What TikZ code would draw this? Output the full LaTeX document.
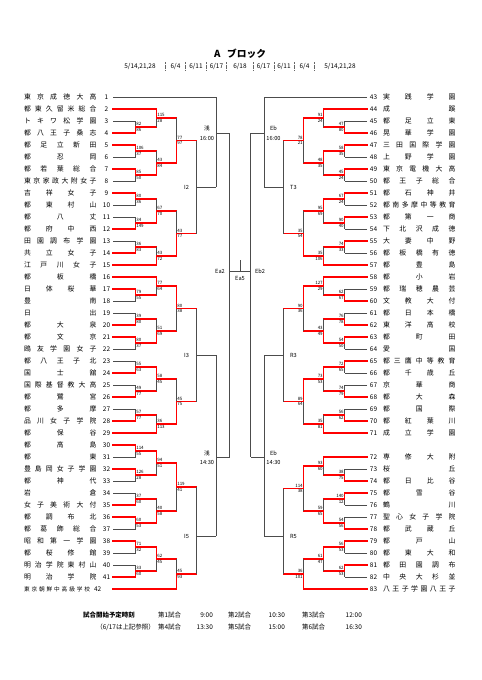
\documentclass[tikz,border=0pt]{standalone}
\usepackage{fontspec}
\setmainfont{Noto Sans CJK JP}
\newlength\ux
\setlength\ux{1.238pt}
\makeatletter
\def\reparte@#1#2\reparte@fin{#1\ifx\relax#2\relax\else\hfill\reparte@#2\reparte@fin\fi}
\newcommand\reparte[2][72.5]{\makebox[#1\ux][s]{\expandafter\reparte@#2\reparte@fin}}
\makeatother
% partido: {x vertical}{x salida}{y arriba}{y abajo}{y salida}{tanteo arriba}{tanteo abajo}{y ganador}
\newcommand\partido[8]{%
  \draw[linea] (#1,#3) -- (#1,#4);
  \ifx\relax#8\relax
    \draw[linea] (#1,#5) -- (#2,#5);
  \else
    \draw[ganador] (#1,#8) -- (#1,#5) -- (#2,#5);
    \node[tanteo, anchor=south \lado, xshift=\dx, yshift=1.2pt] at (#1,#5) {#6};
    \node[tanteo, anchor=north \lado, xshift=\dx, yshift=-1.2pt] at (#1,#5) {#7};
  \fi}
\tikzset{
  linea/.style={draw=black!70, line width=0.8pt},
  ganador/.style={draw=red, line width=2pt, line cap=rect},
  tanteo/.style={font=\fontsize{5.5}{5.5}\selectfont, inner sep=0pt, text height=3.8pt, text depth=0pt},
  equipo/.style={font=\fontsize{8.5}{8.5}\selectfont, inner sep=0pt},
  numero/.style={font=\fontsize{8}{8}\selectfont, inner sep=0pt},
  ronda/.style={font=\fontsize{7}{7}\selectfont, inner sep=0pt},
  fecha/.style={font=\fontsize{8}{8}\selectfont, inner sep=0pt},
  separador/.style={draw=black!60, densely dotted, line width=0.6pt},
  pie/.style={font=\fontsize{8}{8}\selectfont, inner sep=0pt},
}
\begin{document}
\begin{tikzpicture}[x=1.238pt, y=-1.238pt]
    \fill[white] (0,0) rectangle (481,680);
    \useasboundingbox (0,0) rectangle (481,680);

    % Titulo y fechas de cada ronda
    \node[font=\bfseries\fontsize{12}{12}\selectfont, inner sep=0pt] (titulo) at (240,54) {A\hspace{0.7em}ブロック};
    \node[fecha] (f1) at (140,66.7) {5/14,21,28};
    \node[fecha] (f2) at (175.5,66.7) {6/4};
    \node[fecha] (f3) at (196,66.7) {6/11};
    \node[fecha] (f4) at (216.5,66.7) {6/17};
    \node[fecha] (f5) at (240,66.7) {6/18};
    \node[fecha] (f6) at (263.5,66.7) {6/17};
    \node[fecha] (f7) at (284,66.7) {6/11};
    \node[fecha] (f8) at (304.5,66.7) {6/4};
    \node[fecha] (f9) at (340,66.7) {5/14,21,28};
    \foreach \d in {13.5,34,54.5,74.5} {
        \draw[separador] (240-\d,62) -- (240-\d,71);
        \draw[separador] (240+\d,62) -- (240+\d,71);
    }

    % Equipos del lado izquierdo
    \foreach \n/\nm/\xe/\c in {1/東京成徳大高/216/linea, 2/都東久留米総合/156.5/ganador,
        3/トキワ松学園/135.5/linea, 4/都八王子桑志/135.5/ganador, 5/都足立新田/135.5/ganador,
        6/都忍岡/135.5/linea, 7/都若葉総合/135.5/ganador, 8/東京家政大附女子/135.5/linea,
        9/吉祥女子/135.5/ganador, 10/都東村山/135.5/linea, 11/都八丈/135.5/linea,
        12/都府中西/135.5/ganador, 13/田園調布学園/135.5/linea, 14/共立女子/135.5/ganador,
        15/江戸川女子/156.5/ganador, 16/都板橋/156.5/ganador, 17/日体桜華/135.5/ganador,
        18/豊南/135.5/linea, 19/日出/135.5/linea, 20/都大泉/135.5/ganador,
        21/都文京/135.5/ganador, 22/鴎友学園女子/135.5/linea, 23/都八王子北/135.5/linea,
        24/国士舘/135.5/ganador, 25/国際基督教大高/135.5/linea, 26/都鷺宮/135.5/ganador,
        27/都多摩/135.5/linea, 28/品川女子学院/135.5/ganador, 29/都保谷/156.5/ganador,
        30/都高島/135.5/ganador, 31/都東/135.5/linea, 32/豊島岡女子学園/135.5/ganador,
        33/都神代/135.5/linea, 34/岩倉/135.5/linea, 35/女子美術大付/135.5/ganador,
        36/都調布北/135.5/ganador, 37/都葛飾総合/135.5/linea, 38/昭和第一学園/135.5/ganador,
        39/都桜修館/135.5/linea, 40/明治学院東村山/135.5/linea, 41/明治学院/135.5/ganador} {
        \pgfmathsetmacro\yy{97+12*(\n-1)}
        \node[equipo] (L\n) at (60.25,\yy) {\reparte{\nm}};
        \node[numero] (nL\n) at (106.5,\yy) {\n};
        \draw[\c] (113,\yy) -- (\xe,\yy);
    }
    \node[equipo, font=\fontsize{7}{7}\selectfont] (L42) at (57,589) {\reparte[66]{東京朝鮮中高級学校}};
    \node[numero, anchor=west] (nL42) at (94,589) {42};
    \draw[ganador] (113,589) -- (176.5,589);

    % Equipos del lado derecho
    \foreach \n/\nm/\xe/\c in {43/実践学園/264/linea, 44/成蹊/323.5/ganador,
        45/都足立東/344.5/linea, 46/晃華学園/344.5/ganador, 47/三田国際学園/344.5/ganador,
        48/上野学園/344.5/linea, 49/東京電機大高/344.5/ganador, 50/都王子総合/344.5/linea,
        51/都石神井/344.5/ganador, 52/都南多摩中等教育/344.5/linea, 53/都第一商/344.5/ganador,
        54/下北沢成徳/344.5/linea, 55/大妻中野/344.5/ganador, 56/都板橋有徳/344.5/linea,
        57/都豊島/323.5/ganador, 58/都小岩/323.5/ganador, 59/都瑞穂農芸/344.5/linea,
        60/文教大付/344.5/ganador, 61/都日本橋/344.5/linea, 62/東洋高校/344.5/ganador,
        63/都町田/344.5/ganador, 64/愛国/344.5/linea, 65/都三鷹中等教育/344.5/ganador,
        66/都千歳丘/344.5/linea, 67/京華商/344.5/linea, 68/都大森/344.5/ganador,
        69/都国際/344.5/linea, 70/都紅葉川/344.5/ganador, 71/成立学園/323.5/ganador,
        72/専修大附/323.5/ganador, 73/桜丘/344.5/linea, 74/都日比谷/344.5/ganador,
        75/都雪谷/344.5/ganador, 76/鶴川/344.5/linea, 77/聖心女子学院/344.5/linea,
        78/都武蔵丘/344.5/ganador, 79/都戸山/344.5/ganador, 80/都東大和/344.5/linea,
        81/都田園調布/344.5/ganador, 82/中央大杉並/344.5/linea, 83/八王子学園八王子/303.5/ganador} {
        \pgfmathsetmacro\yy{97+12*(\n-43)+12*(\n>71)}
        \node[equipo] (R\n) at (419.25,\yy) {\reparte{\nm}};
        \node[numero] (nR\n) at (373.5,\yy) {\n};
        \draw[\c] (367,\yy) -- (\xe,\yy);
    }

    % Cuadro izquierdo
    \def\lado{west}\def\dx{0.8pt}
    \partido{135.5}{156.5}{121}{133}{127}{82}{86}{133}
    \partido{135.5}{156.5}{145}{157}{151}{106}{37}{145}
    \partido{135.5}{156.5}{169}{181}{175}{85}{50}{169}
    \partido{135.5}{156.5}{193}{205}{199}{80}{36}{193}
    \partido{135.5}{156.5}{217}{229}{223}{34}{149}{229}
    \partido{135.5}{156.5}{241}{253}{247}{36}{83}{253}
    \partido{135.5}{156.5}{289}{301}{295}{79}{55}{289}
    \partido{135.5}{156.5}{313}{325}{319}{39}{80}{325}
    \partido{135.5}{156.5}{337}{349}{343}{80}{37}{337}
    \partido{135.5}{156.5}{361}{373}{367}{55}{63}{373}
    \partido{135.5}{156.5}{385}{397}{391}{49}{77}{397}
    \partido{135.5}{156.5}{409}{421}{415}{57}{77}{421}
    \partido{135.5}{156.5}{445}{457}{451}{114}{55}{445}
    \partido{135.5}{156.5}{469}{481}{475}{126}{28}{469}
    \partido{135.5}{156.5}{493}{505}{499}{37}{60}{505}
    \partido{135.5}{156.5}{517}{529}{523}{60}{53}{517}
    \partido{135.5}{156.5}{541}{553}{547}{71}{32}{541}
    \partido{135.5}{156.5}{565}{577}{571}{33}{60}{577}
    \partido{156.5}{176.5}{109}{127}{118}{115}{28}{109}
    \partido{156.5}{176.5}{151}{175}{163}{43}{84}{175}
    \partido{156.5}{176.5}{199}{223}{211}{67}{70}{223}
    \partido{156.5}{176.5}{247}{265}{256}{43}{72}{265}
    \partido{156.5}{176.5}{277}{295}{286}{77}{64}{277}
    \partido{156.5}{176.5}{319}{343}{331}{51}{69}{343}
    \partido{156.5}{176.5}{367}{391}{379}{58}{45}{367}
    \partido{156.5}{176.5}{415}{433}{424}{36}{113}{433}
    \partido{156.5}{176.5}{451}{475}{463}{94}{51}{451}
    \partido{156.5}{176.5}{499}{523}{511}{40}{58}{523}
    \partido{156.5}{176.5}{547}{571}{559}{62}{45}{547}
    \partido{176.5}{196.5}{118}{163}{140.5}{77}{97}{163}
    \partido{176.5}{196.5}{211}{256}{233.5}{43}{77}{256}
    \partido{176.5}{196.5}{286}{331}{308.5}{80}{38}{286}
    \partido{176.5}{196.5}{379}{424}{401.5}{45}{75}{424}
    \partido{176.5}{196.5}{463}{511}{487}{119}{41}{463}
    \partido{176.5}{196.5}{559}{589}{574}{45}{93}{589}
    \partido{196.5}{216}{140.5}{233.5}{187}{}{}{}
    \partido{196.5}{216}{308.5}{401.5}{355}{}{}{}
    \partido{196.5}{216}{487}{574}{536}{}{}{}
    \partido{216}{229.5}{97}{187}{133}{}{}{}
    \partido{216}{229.5}{355}{536}{457}{}{}{}
    \partido{229.5}{240}{133}{457}{271.7}{}{}{}

    % Cuadro derecho
    \def\lado{east}\def\dx{-0.8pt}
    \partido{344.5}{323.5}{121}{133}{127}{47}{80}{133}
    \partido{344.5}{323.5}{145}{157}{151}{58}{35}{145}
    \partido{344.5}{323.5}{169}{181}{175}{45}{24}{169}
    \partido{344.5}{323.5}{193}{205}{199}{67}{24}{193}
    \partido{344.5}{323.5}{217}{229}{223}{90}{40}{217}
    \partido{344.5}{323.5}{241}{253}{247}{74}{33}{241}
    \partido{344.5}{323.5}{289}{301}{295}{62}{67}{301}
    \partido{344.5}{323.5}{313}{325}{319}{76}{78}{325}
    \partido{344.5}{323.5}{337}{349}{343}{54}{50}{337}
    \partido{344.5}{323.5}{361}{373}{367}{72}{65}{361}
    \partido{344.5}{323.5}{385}{397}{391}{74}{79}{397}
    \partido{344.5}{323.5}{409}{421}{415}{56}{62}{421}
    \partido{344.5}{323.5}{469}{481}{475}{38}{75}{481}
    \partido{344.5}{323.5}{493}{505}{499}{140}{12}{493}
    \partido{344.5}{323.5}{517}{529}{523}{54}{56}{529}
    \partido{344.5}{323.5}{541}{553}{547}{56}{53}{541}
    \partido{344.5}{323.5}{565}{577}{571}{62}{53}{565}
    \partido{323.5}{303.5}{109}{127}{118}{91}{24}{109}
    \partido{323.5}{303.5}{151}{175}{163}{48}{35}{151}
    \partido{323.5}{303.5}{199}{223}{211}{95}{69}{199}
    \partido{323.5}{303.5}{247}{265}{256}{35}{106}{265}
    \partido{323.5}{303.5}{277}{295}{286}{127}{29}{277}
    \partido{323.5}{303.5}{319}{343}{331}{43}{49}{343}
    \partido{323.5}{303.5}{367}{391}{379}{73}{53}{367}
    \partido{323.5}{303.5}{415}{433}{424}{35}{81}{433}
    \partido{323.5}{303.5}{457}{475}{466}{93}{60}{457}
    \partido{323.5}{303.5}{499}{523}{511}{59}{65}{523}
    \partido{323.5}{303.5}{547}{571}{559}{61}{47}{547}
    \partido{303.5}{283.5}{118}{163}{140.5}{78}{21}{118}
    \partido{303.5}{283.5}{211}{256}{233.5}{35}{54}{256}
    \partido{303.5}{283.5}{286}{331}{308.5}{90}{36}{286}
    \partido{303.5}{283.5}{379}{424}{401.5}{89}{64}{379}
    \partido{303.5}{283.5}{466}{511}{488.5}{114}{38}{466}
    \partido{303.5}{283.5}{559}{589}{574}{36}{101}{589}
    \partido{283.5}{264}{140.5}{233.5}{187}{}{}{}
    \partido{283.5}{264}{308.5}{401.5}{355}{}{}{}
    \partido{283.5}{264}{488.5}{574}{536}{}{}{}
    \partido{264}{250.5}{97}{187}{133}{}{}{}
    \partido{264}{250.5}{355}{536}{457}{}{}{}
    \partido{250.5}{240}{133}{457}{271.7}{}{}{}

    % Final y nombres de los partidos
    \draw[linea] (240,271.7) -- (240,260);
    \node[ronda] (ea5) at (240,278.5) {Ea5};
    \node[ronda, anchor=east] (ea2) at (225,271.7) {Ea2};
    \node[ronda, anchor=west] (eb2) at (255,271.7) {Eb2};
    \node[ronda] (i2) at (186.5,187) {I2};
    \node[ronda] (i3) at (186.5,355) {I3};
    \node[ronda] (i5) at (186.5,536) {I5};
    \node[ronda] (t3) at (293.5,187) {T3};
    \node[ronda] (r3) at (293.5,355) {R3};
    \node[ronda] (r5) at (293.5,536) {R5};
    \node[ronda] (sa1) at (207,128) {浅};
    \node[ronda] (ha1) at (207,138.5) {16:00};
    \node[ronda] (sa2) at (207,453) {浅};
    \node[ronda] (ha2) at (207,462.5) {14:30};
    \node[ronda] (sb1) at (273.5,128) {Eb};
    \node[ronda] (hb1) at (273.5,138.5) {16:00};
    \node[ronda] (sb2) at (273.5,453) {Eb};
    \node[ronda] (hb2) at (273.5,462.5) {14:30};

    % Horario de los partidos
    \node[pie, font=\bfseries\fontsize{8}{8}\selectfont, anchor=west] (hor) at (83,615) {試合開始予定時刻};
    \node[pie, anchor=east] (nota) at (155,627) {（6/17は上記参照）};
    \node[pie, anchor=west] (p1) at (158,615) {第1試合};
    \node[pie, anchor=east] (h1) at (213,615) {9:00};
    \node[pie, anchor=west] (p2) at (228,615) {第2試合};
    \node[pie, anchor=east] (h2) at (285,615) {10:30};
    \node[pie, anchor=west] (p3) at (302,615) {第3試合};
    \node[pie, anchor=east] (h3) at (362,615) {12:00};
    \node[pie, anchor=west] (p4) at (158,627) {第4試合};
    \node[pie, anchor=east] (h4) at (213,627) {13:30};
    \node[pie, anchor=west] (p5) at (228,627) {第5試合};
    \node[pie, anchor=east] (h5) at (285,627) {15:00};
    \node[pie, anchor=west] (p6) at (302,627) {第6試合};
    \node[pie, anchor=east] (h6) at (362,627) {16:30};
\end{tikzpicture}
\end{document}
